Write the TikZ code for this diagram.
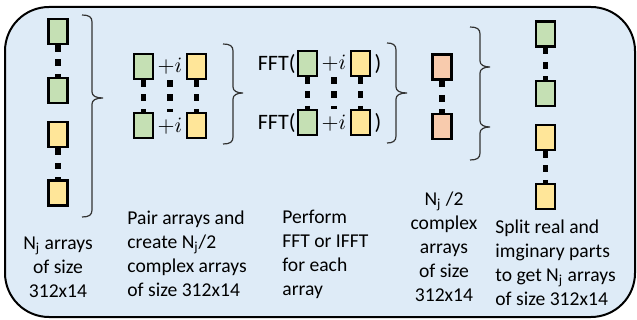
\documentclass[tikz,border=0pt]{standalone}
\usepackage{fontspec}
\setmainfont{Carlito}
\usepackage{tikz}
\usetikzlibrary{positioning,calc}
\definecolor{panelblue}{HTML}{DEEBF7}
\definecolor{cellgreen}{HTML}{C5E0B4}
\definecolor{cellyellow}{HTML}{FFE699}
\definecolor{cellsalmon}{HTML}{F8CBAD}

\begin{document}
\begin{tikzpicture}[
  x=0.5pt, y=-0.5pt,
  font=\fontsize{9.8}{12}\selectfont,
  cell/.style={draw, line width=1.1pt, inner sep=0pt,
    minimum width=9.5pt, minimum height=12.5pt},
  re/.style={cell, fill=cellgreen},
  im/.style={cell, fill=cellyellow},
  cx/.style={cell, fill=cellsalmon},
  dots/.style={line width=2.9pt, dash pattern=on 3.3pt off 3.9pt},
  brace/.style={draw=black!80, line width=0.6pt},
  op/.style={inner sep=0pt, font=\fontsize{11}{13}\selectfont},
  caption/.style={inner sep=0pt, align=left, anchor=west}
]

\useasboundingbox (0,0) rectangle (637,320);
\draw[fill=panelblue, line width=1pt, rounded corners=22pt] (5,7) rectangle (635,317);

% ---- input arrays ----
\node[re] (re1a) at (58,31.5) {};
\node[re, below=16pt of re1a] (re1b) {};
\node[im, below=8.5pt of re1b] (im1a) {};
\node[im, below=15.5pt of im1a] (im1b) {};
\draw[dots] (re1a.south) -- (re1b.north);
\draw[dots] (im1a.south) -- (im1b.north);

% ---- paired arrays ----
\node[re] (re2a) at (143.5,66.5) {};
\node[re, below=16pt of re2a] (re2b) {};
\node[im] (im2a) at (196.5,66.5) {};
\node[im, below=16pt of im2a] (im2b) {};
\node[op] (pl2a) at ($(re2a.east)!0.5!(im2a.west)$) {$+i$};
\node[op] (pl2b) at ($(re2b.east)!0.5!(im2b.west)$) {$+i$};
\draw[dots] (re2a.south) -- (re2b.north);
\draw[dots] (pl2a.center |- re2a.south) -- (pl2b.center |- re2b.north);
\draw[dots] (im2a.south) -- (im2b.north);

% ---- transformed pairs ----
\node[re] (re3a) at (307.5,63.5) {};
\node[re, below=16pt of re3a] (re3b) {};
\node[im] (im3a) at (360.5,63.5) {};
\node[im, below=16pt of im3a] (im3b) {};
\node[op] (pl3a) at ($(re3a.east)!0.5!(im3a.west)$) {$+i$};
\node[op] (pl3b) at ($(re3b.east)!0.5!(im3b.west)$) {$+i$};
\node[op, left=0.5pt of re3a] (fft3a) {FFT(};
\node[op, left=0.5pt of re3b] (fft3b) {FFT(};
\node[op, right=1.5pt of im3a] (cl3a) {)};
\node[op, right=1.5pt of im3b] (cl3b) {)};
\draw[dots] (re3a.south) -- (re3b.north);
\draw[dots] (pl3a.center |- re3a.south) -- (pl3b.center |- re3b.north);
\draw[dots] (im3a.south) -- (im3b.north);

% ---- complex result ----
\node[cx] (cx4a) at (442,67) {};
\node[cx, below=16pt of cx4a] (cx4b) {};
\draw[dots] (cx4a.south) -- (cx4b.north);

% ---- split output ----
\node[re] (re5a) at (545.5,34) {};
\node[re, below=16pt of re5a] (re5b) {};
\node[im, below=8.5pt of re5b] (im5a) {};
\node[im, below=16pt of im5a] (im5b) {};
\draw[dots] (re5a.south) -- (re5b.north);
\draw[dots] (im5a.south) -- (im5b.north);

% ---- braces ----
\draw[brace] (82,15) .. controls (89,15) and (92,17) .. (92,22) -- (92,92)
  .. controls (92,96) and (96,98) .. (103,98) .. controls (96,98) and (92,100) .. (92,104)
  -- (92,210) .. controls (92,215) and (89,217) .. (82,217);
\draw[brace] (223,44) .. controls (230,44) and (233,46) .. (233,51) -- (233,87)
  .. controls (233,91) and (237,93) .. (243,93) .. controls (237,93) and (233,95) .. (233,99)
  -- (233,137) .. controls (233,142) and (230,144) .. (223,144);
\draw[brace] (387,43) .. controls (393,43) and (396,45) .. (396,50) -- (396,87)
  .. controls (396,91) and (400,93) .. (407,93) .. controls (400,93) and (396,95) .. (396,99)
  -- (396,136) .. controls (396,141) and (393,143) .. (387,143);
\draw[brace] (470,27) .. controls (477,27) and (480,29) .. (480,34) -- (480,61)
  .. controls (480,65) and (484,67) .. (490,67) .. controls (484,67) and (480,69) .. (480,73)
  -- (480,121) .. controls (480,125) and (484,127) .. (490,127) .. controls (484,127) and (480,129) .. (480,133)
  -- (480,153) .. controls (480,158) and (477,160) .. (470,160);

% ---- captions ----
\node[caption, anchor=center, align=center] (cap1) at (58,267) {N\textsubscript{j} arrays\\of size\\312x14};
\node[caption] (cap2) at (127,254) {Pair arrays and\\create N\textsubscript{j}/2\\complex arrays\\of size 312x14};
\node[caption] (cap3) at (282,254) {Perform\\FFT or IFFT\\for each\\array};
\node[caption, anchor=center, align=center] (cap4) at (444,247) {N\textsubscript{j} /2\\complex\\arrays\\of size\\312x14};
\node[caption] (cap5) at (495,263) {Split real and\\imginary parts\\to get N\textsubscript{j} arrays\\of size 312x14};

\end{tikzpicture}
\end{document}
